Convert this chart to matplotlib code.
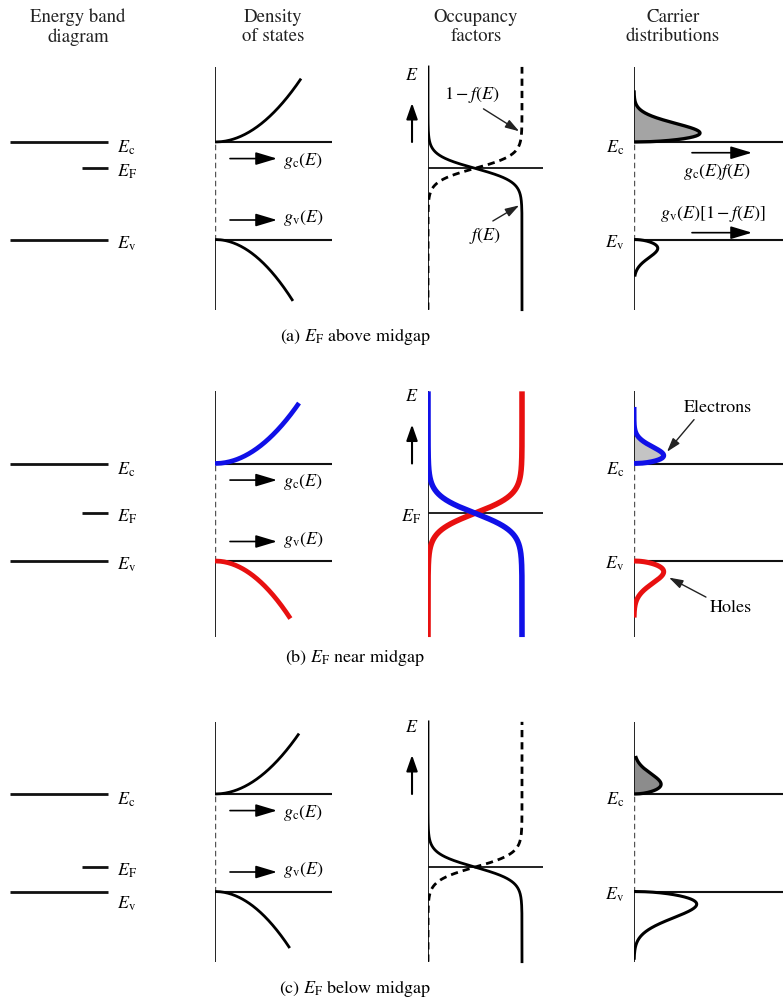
import numpy as np
import matplotlib
matplotlib.use("Agg")
import matplotlib.pyplot as plt

plt.rcParams['font.family'] = ['STIXGeneral', 'DejaVu Serif']
plt.rcParams['mathtext.fontset'] = 'stix'

# ---------------- data ----------------
column_titles = ["Energy band\ndiagram", "Density\nof states", "Occupancy\nfactors", "Carrier\ndistributions"]
panel_tags = ["(a)", "(b)", "(c)"]
panel_captions = ["above midgap", "near midgap", "below midgap"]

E_v = [0.0, 0.0, 0.0]          # valence band edge (normalized energy)
E_c = [1.0, 1.0, 1.0]          # conduction band edge
E_F = [0.73, 0.49, 0.25]       # Fermi level
E_top = [1.77, 1.74, 1.74]     # top of plotted energy range
E_bot = [-0.72, -0.78, -0.72]  # bottom of plotted energy range
kT = [0.068, 0.095, 0.07]      # thermal width used for f(E)

gc_extent = [0.65, 0.62, 0.62]  # energy span drawn for g_c(E) above E_c
gv_extent = [0.63, 0.59, 0.58]  # energy span drawn for g_v(E) below E_v
gv_ratio = 0.92                  # relative prefactor of g_v vs g_c

n_peak = [1.0, 0.45, 0.41]       # electron distribution peak height
n_peak_at = [0.092, 0.082, 0.10] # peak position above E_c
n_span = [0.53, 0.58, 0.39]      # energy span of electron distribution
p_peak = [0.36, 0.45, 0.95]      # hole distribution peak height
p_peak_at = [0.09, 0.11, 0.13]   # peak position below E_v
p_span = [0.38, 0.58, 0.70]      # energy span of hole distribution

n_fill = ["#a4a4a4", "#c4c4c4", "#8c8c8c"]
blue, red = "#1010e8", "#e81010"

# ---------------- layout helpers ----------------
W, H = 783, 1002
PX_E = 97.5                       # pixels per unit energy
row_ev_px = [239.5, 561.0, 891.5]
YLO, YHI = -0.9, 1.9

fig = plt.figure(figsize=(W / 100, H / 100), dpi=100)
fig.patch.set_facecolor("white")

def add_ax(ev_px, x0, x1, xlim):
    top = ev_px - YHI * PX_E
    h = (YHI - YLO) * PX_E
    ax = fig.add_axes([x0 / W, 1 - (top + h) / H, (x1 - x0) / W, h / H])
    ax.set_xlim(*xlim)
    ax.set_ylim(YLO, YHI)
    ax.axis("off")
    return ax

def arrow(ax, x0, x1, y, lw=1.2, hl=1.0, hw=0.3, ms=13):
    ax.annotate("", xy=(x1, y), xytext=(x0, y),
                arrowprops=dict(arrowstyle=f"-|>,head_length={hl},head_width={hw}",
                                color="black", lw=lw, mutation_scale=ms, shrinkA=0, shrinkB=0),
                annotation_clip=False)

def pointer(ax, xy_from, xy_to):
    ax.annotate("", xy=xy_to, xytext=xy_from,
                arrowprops=dict(arrowstyle="-|>,head_length=0.7,head_width=0.22",
                                color="#222222", lw=1.0, mutation_scale=12, shrinkA=0, shrinkB=0),
                annotation_clip=False)

def shape(u):
    u = np.clip(u, 0, None)
    return np.sqrt(u) * np.exp((1 - u ** 2) / 4.0)

def occupancy(E, EF, kt):
    return 1.0 / (1.0 + np.exp((E - EF) / kt))

TXT = 13
DOS_PX = 106.7   # px per DOS unit
OCC_PX = 94.0    # px per unit occupancy
CAR_PX = 66.0    # px per carrier unit

# ---------------- headers ----------------
header_x = [78, 273, 476, 673]
for t, x in zip(column_titles, header_x):
    fig.text(x / W, 1 - 27 / H, t, ha="center", va="center", fontsize=13.5,
             linespacing=1.15, color="#222222")

for i in range(3):
    ev_px = row_ev_px[i]
    Ec, Ev, EF = E_c[i], E_v[i], E_F[i]
    col = i == 1
    cc = blue if col else "black"
    cv = red if col else "black"
    lw_curve = 3.4 if col else 2.0

    # ---- energy band diagram ----
    ax = add_ax(ev_px, 0, 200, (0, 200))
    ax.hlines([Ec, Ev], 10, 108, color="#111111", lw=2.0)
    ax.hlines(EF, 82, 108, color="#111111", lw=2.0)
    ax.text(117, Ec - 0.06, r"$E_{\rm c}$", fontsize=TXT, va="center", ha="left")
    ax.text(117, EF - 0.04, r"$E_{\rm F}$", fontsize=TXT, va="center", ha="left")
    ev_off = -0.13 if (EF - Ev) < 0.35 else -0.04
    ax.text(117, Ev + ev_off, r"$E_{\rm v}$", fontsize=TXT, va="center", ha="left")

    # ---- density of states ----
    ax = add_ax(ev_px, 215, 345, (0, 130 / DOS_PX))
    ax.vlines(0, Ec, E_top[i], color="#111111", lw=1.3)
    ax.vlines(0, E_bot[i], Ev, color="#111111", lw=1.3)
    ax.plot([0, 0], [Ev, Ec], color="#555555", lw=1.0, dashes=(4, 2.5))
    ax.hlines([Ec, Ev], 0, 117 / DOS_PX, color="#111111", lw=1.5)
    Eg_c = np.linspace(Ec, Ec + gc_extent[i], 200)
    ax.plot(np.sqrt(Eg_c - Ec), Eg_c, color=cc, lw=lw_curve, solid_capstyle="butt")
    Eg_v = np.linspace(Ev - gv_extent[i], Ev, 200)
    ax.plot(gv_ratio * np.sqrt(Ev - Eg_v), Eg_v, color=cv, lw=lw_curve, solid_capstyle="butt")
    arrow(ax, 15 / DOS_PX, 62 / DOS_PX, Ec - 0.17)
    arrow(ax, 15 / DOS_PX, 62 / DOS_PX, Ev + 0.20)
    ax.text(68 / DOS_PX, Ec - 0.19, r"$g_{\rm c}(E)$", fontsize=TXT, va="center", ha="left")
    ax.text(68 / DOS_PX, Ev + 0.22, r"$g_{\rm v}(E)$", fontsize=TXT, va="center", ha="left")

    # ---- occupancy factors ----
    ax = add_ax(ev_px, 428, 550, (0, 122 / OCC_PX))
    ax.vlines(0, E_bot[i], E_top[i], color="#111111", lw=1.3)
    ax.hlines(EF, 0, 115 / OCC_PX, color="#111111", lw=1.3)
    E = np.linspace(E_bot[i], E_top[i], 800)
    f = occupancy(E, EF, kT[i])
    if col:
        ax.plot(1 - f, E, color=red, lw=4.0, solid_capstyle="butt")
        ax.plot(f, E, color=blue, lw=4.0, solid_capstyle="butt")
        ax.text(-0.08, EF - 0.04, r"$E_{\rm F}$", fontsize=TXT, va="center", ha="right")
    else:
        ax.plot(f, E, color="black", lw=2.0)
        ax.plot(1 - f, E, color="black", lw=2.0, dashes=(2.6, 1.8))
    ax.annotate("", xy=(-0.17, 1.40), xytext=(-0.17, 1.0),
                arrowprops=dict(arrowstyle="-|>,head_length=0.8,head_width=0.28",
                                color="black", lw=1.5, mutation_scale=12, shrinkA=0, shrinkB=0),
                annotation_clip=False)
    ax.text(-0.17, 1.68, r"$E$", fontsize=TXT, ha="center", va="center")
    if i == 0:
        ax.text(0.47, 1.48, r"$1-f(E)$", fontsize=TXT, ha="center", va="center")
        pointer(ax, (0.59, 1.34), (0.97, 1.11))
        ax.text(0.61, 0.04, r"$f(E)$", fontsize=TXT, ha="center", va="center")
        pointer(ax, (0.69, 0.19), (0.97, 0.35))

    # ---- carrier distributions ----
    ax = add_ax(ev_px, 634, 783, (0, 149 / CAR_PX))
    ax.vlines(0, Ec, E_top[i], color="#111111", lw=1.3)
    ax.vlines(0, E_bot[i], Ev, color="#111111", lw=1.3)
    ax.plot([0, 0], [Ev, Ec], color="#555555", lw=1.0, dashes=(4, 2.5))
    ax.hlines([Ec, Ev], 0, 3, color="#111111", lw=1.5)
    En = np.linspace(Ec, Ec + n_span[i], 300)
    n = n_peak[i] * shape((En - Ec) / n_peak_at[i])
    ax.fill_betweenx(En, 0, n, color=n_fill[i], lw=0)
    ax.plot(n, En, color=cc, lw=2.4 if not col else 3.6, solid_capstyle="butt")
    Ep = np.linspace(Ev - p_span[i], Ev, 300)
    p = p_peak[i] * shape((Ev - Ep) / p_peak_at[i])
    ax.plot(p, Ep, color=cv, lw=2.2 if not col else 3.6, solid_capstyle="butt")
    ax.text(-0.15, Ec - 0.06, r"$E_{\rm c}$", fontsize=TXT, va="center", ha="right")
    ax.text(-0.15, Ev - 0.03, r"$E_{\rm v}$", fontsize=TXT, va="center", ha="right")
    if i == 0:
        arrow(ax, 58 / CAR_PX, 118 / CAR_PX, Ec - 0.11)
        ax.text(83 / CAR_PX, Ec - 0.31, r"$g_{\rm c}(E)f(E)$", fontsize=TXT, ha="center", va="center")
        ax.text(79 / CAR_PX, Ev + 0.26, r"$g_{\rm v}(E)[1-f(E)]$", fontsize=TXT, ha="center", va="center")
        arrow(ax, 58 / CAR_PX, 118 / CAR_PX, Ev + 0.07)
    if i == 1:
        ax.text(1.27, Ec + 0.57, "Electrons", fontsize=TXT, ha="center", va="center")
        pointer(ax, (0.91, Ec + 0.45), (0.50, Ec + 0.12))
        ax.text(1.47, Ev - 0.48, "Holes", fontsize=TXT, ha="center", va="center")
        pointer(ax, (1.09, Ev - 0.37), (0.53, Ev - 0.17))

    # ---- caption ----
    cap_y = ev_px + 97
    fig.text(355 / W, 1 - cap_y / H, panel_tags[i] + r" $E_{\rm F}$ " + panel_captions[i],
             ha="center", va="center", fontsize=13)

fig.savefig("out.png", dpi=100, facecolor="white")
